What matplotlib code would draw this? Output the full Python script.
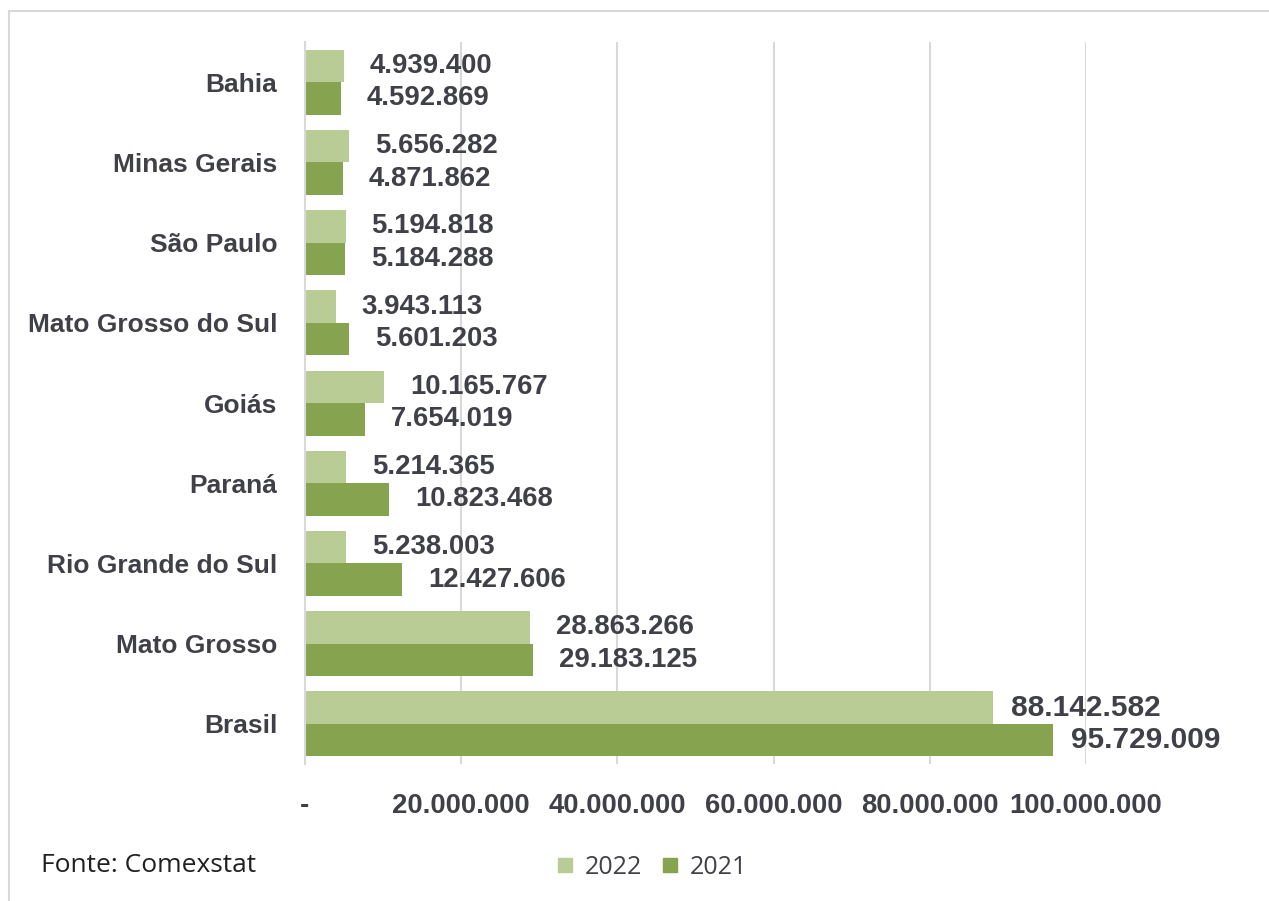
import matplotlib.pyplot as plt
from matplotlib.lines import Line2D
import numpy as np

estados = ['Bahia', 'Minas Gerais', 'São Paulo', 'Mato Grosso do Sul', 'Goiás',
           'Paraná', 'Rio Grande do Sul', 'Mato Grosso', 'Brasil']
v2022 = [4939400, 5656282, 5194818, 3943113, 10165767, 5214365, 5238003, 28863266, 88142582]
v2021 = [4592869, 4871862, 5184288, 5601203, 7654019, 10823468, 12427606, 29183125, 95729009]
xticks = [0, 20000000, 40000000, 60000000, 80000000, 100000000]

c22 = '#b9cc96'
c21 = '#86a44f'
txt = '#404048'


def fmt(v):
    if v == 0:
        return '-'
    return f'{v:,}'.replace(',', '.')


fig = plt.figure(figsize=(12.69, 9.01), dpi=100)
ax = fig.add_axes([0.2403, 0.152, 0.6155, 0.8014])

y = np.arange(len(estados))
h = 0.405
ax.barh(y - h / 2, v2022, height=h, color=c22, label='2022')
ax.barh(y + h / 2, v2021, height=h, color=c21, label='2021')

ax.set_ylim(len(estados) - 0.5, -0.5)
ax.set_xlim(0, 100000000)
ax.set_yticks(y)
ax.set_yticklabels(estados)
ax.set_xticks(xticks)
ax.set_xticklabels([fmt(t) for t in xticks])

for lab in ax.get_yticklabels():
    lab.set_fontfamily('Liberation Sans')
    lab.set_fontweight('bold')
    lab.set_fontsize(19)
    lab.set_color(txt)
for lab in ax.get_xticklabels():
    lab.set_fontfamily('Liberation Sans')
    lab.set_fontweight('bold')
    lab.set_fontsize(19.8)
    lab.set_color(txt)
ax.tick_params(axis='y', length=0, pad=20)
ax.tick_params(axis='x', length=0, pad=21)

ax.grid(axis='x', color='#d9d9d9', linewidth=1.5)
ax.set_axisbelow(True)
for s in ['top', 'right', 'bottom']:
    ax.spines[s].set_visible(False)
ax.spines['left'].set_color('#d9d9d9')
ax.spines['left'].set_linewidth(1.5)

for i in range(len(estados)):
    fs = 21.5 if estados[i] == 'Brasil' else 19.8
    off = 18 if estados[i] == 'Brasil' else 26
    ax.annotate(fmt(v2022[i]), (v2022[i], i - h / 2), xytext=(off, 0), textcoords='offset pixels',
                va='center', ha='left', fontsize=fs, fontweight='bold', color=txt,
                fontfamily='Liberation Sans')
    ax.annotate(fmt(v2021[i]), (v2021[i], i + h / 2), xytext=(off, 0), textcoords='offset pixels',
                va='center', ha='left', fontsize=fs, fontweight='bold', color=txt,
                fontfamily='Liberation Sans')

fig.legend(handles=[Line2D([], [], marker='s', ls='', color=c22, markersize=10, label='2022'),
                    Line2D([], [], marker='s', ls='', color=c21, markersize=10, label='2021')],
           loc='center', bbox_to_anchor=(0.512, 0.037), ncol=2, frameon=False,
           handlelength=1.0, handletextpad=0.3, columnspacing=0.6,
           prop={'family': 'Open Sans', 'size': 18}, labelcolor=txt)

fig.text(0.032, 0.039, 'Fonte: Comexstat', fontsize=19, fontfamily='Open Sans',
         color='#202020', va='center', ha='left')

# moldura cinza (so topo e esquerda aparecem)
fig.add_artist(Line2D([0.007, 1], [0.988, 0.988], color='#d9d9d9', lw=1.5))
fig.add_artist(Line2D([0.007, 0.007], [0, 0.988], color='#d9d9d9', lw=1.5))

fig.savefig('out.png', dpi=100)
